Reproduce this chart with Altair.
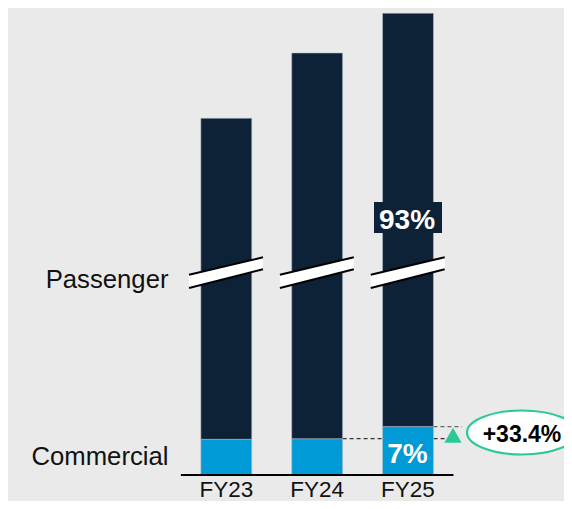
import altair as alt
import pandas as pd

# ---------------- data (display heights, axis is broken) ----------------
years = ["FY23", "FY24", "FY25"]
commercial = [35.7, 36.3, 48.4]
passenger = [321.0, 385.7, 413.3]
series_names = ["Passenger", "Commercial"]
fy25_shares = ["93%", "7%"]
growth_label = "+33.4%"

# ---------------- style ----------------
NAVY = "#0d2137"
BLUE = "#009ad6"
GREEN = "#2bc99a"
BG = "#eaeaea"
FONT = "Liberation Sans"

# ---------------- layout (page pixels) ----------------
PAGE_W, PAGE_H, MARGIN = 572, 509, 8
W, H = PAGE_W - 2 * MARGIN, PAGE_H - 2 * MARGIN
C0, STEP, BASE = 226.3, 90.85, 475.0
HALF_BAR = 0.28


def xi(px):
    return (px - C0) / STEP


def yv(py):
    return BASE - py


xs = alt.Scale(domain=[xi(MARGIN), xi(MARGIN + W)], nice=False, zero=False)
ys = alt.Scale(domain=[yv(MARGIN + H), yv(MARGIN)], nice=False, zero=False)


def X(f):
    return alt.X(f, type="quantitative", scale=xs, axis=None)


def Y(f):
    return alt.Y(f, type="quantitative", scale=ys, axis=None)


# bars
rows = []
for i, yr in enumerate(years):
    rows.append(dict(i=i, x=i - HALF_BAR, x2=i + HALF_BAR, y=0, y2=commercial[i], s="Commercial"))
    rows.append(dict(i=i, x=i - HALF_BAR, x2=i + HALF_BAR, y=commercial[i],
                     y2=commercial[i] + passenger[i], s="Passenger"))
bars_df = pd.DataFrame(rows)

color = alt.Color("s:N", scale=alt.Scale(domain=series_names, range=[NAVY, BLUE]), legend=None)
bars = alt.Chart(bars_df).mark_rect(stroke="#b0bcc8", strokeOpacity=0.55, strokeWidth=1).encode(
    x=X("x"), x2="x2", y=Y("y"), y2="y2", color=color
)

# dashed reference lines
dash_df = pd.DataFrame([
    dict(x=1 + HALF_BAR, x2=xi(449), y=commercial[1], c="#333333"),
    dict(x=2 + HALF_BAR, x2=xi(462), y=commercial[2], c="#666666"),
])
dashes = alt.Chart(dash_df).mark_rule(strokeDash=[4, 3], strokeWidth=1.3).encode(
    x=X("x"), x2="x2", y=Y("y"), color=alt.Color("c:N", scale=None)
)

# axis-break marks
BL, BR = -0.41, 0.404
TOP = (yv(274.7), yv(257.3))
BOT = (yv(288.0), yv(269.3))
band_rows, line_rows = [], []
for i in range(len(years)):
    band_rows.append(dict(g=i, x=i + BL, y=TOP[0], y2=BOT[0]))
    band_rows.append(dict(g=i, x=i + BR, y=TOP[1], y2=BOT[1]))
    line_rows.append(dict(x=i + BL, x2=i + BR, y=TOP[0], y2=TOP[1]))
    line_rows.append(dict(x=i + BL, x2=i + BR, y=BOT[0], y2=BOT[1]))
band = alt.Chart(pd.DataFrame(band_rows)).mark_area(color="white", orient="vertical", opacity=1).encode(
    x=X("x"), y=Y("y"), y2="y2", detail="g:N"
)
blines = alt.Chart(pd.DataFrame(line_rows)).mark_rule(color="black", strokeWidth=2).encode(
    x=X("x"), x2="x2", y=Y("y"), y2="y2"
)

# 93% box + labels
box = alt.Chart(pd.DataFrame([dict(x=xi(374), x2=xi(442), y=yv(202), y2=yv(233))])).mark_rect(
    color=NAVY).encode(x=X("x"), x2="x2", y=Y("y"), y2="y2")
share_df = pd.DataFrame([
    dict(x=xi(407), y=yv(229.3), t=fy25_shares[0]),
    dict(x=xi(407.5), y=yv(462.7), t=fy25_shares[1]),
])
shares = alt.Chart(share_df).mark_text(font=FONT, fontSize=28, fontWeight="bold", color="white",
                                       align="center", baseline="alphabetic").encode(
    x=X("x"), y=Y("y"), text="t:N")

# series labels
ser_df = pd.DataFrame([
    dict(x=xi(168.5), y=yv(287.7), t=series_names[0]),
    dict(x=xi(168.5), y=yv(464.8), t=series_names[1]),
])
ser = alt.Chart(ser_df).mark_text(font=FONT, fontSize=25.7, color="#111111", align="right",
                                  baseline="alphabetic").encode(x=X("x"), y=Y("y"), text="t:N")

# category labels
cat_df = pd.DataFrame(dict(x=list(range(len(years))), y=[yv(497.0)] * len(years), t=years))
cats = alt.Chart(cat_df).mark_text(font=FONT, fontSize=22.5, color="#111111", align="center",
                                   baseline="alphabetic").encode(x=X("x"), y=Y("y"), text="t:N")

# baseline
base = alt.Chart(pd.DataFrame([dict(x=-0.5, x2=2.5, y=0)])).mark_rule(color="black", strokeWidth=2).encode(
    x=X("x"), x2="x2", y=Y("y"))

# growth marker
tri = alt.Chart(pd.DataFrame([dict(x=xi(453), y=yv(435.3))])).mark_point(
    shape="triangle-up", size=300, filled=True, color=GREEN, opacity=1).encode(x=X("x"), y=Y("y"))

k, e = 0.5523, 0.40
ek = e * k
ELLIPSE = (f"M -1 0 C -1 {-ek} {-k} {-e} 0 {-e} C {k} {-e} 1 {-ek} 1 0 "
           f"C 1 {ek} {k} {e} 0 {e} C {-k} {e} -1 {ek} -1 0 Z")
ell = alt.Chart(pd.DataFrame([dict(x=xi(522), y=yv(432.5))])).mark_point(
    shape=ELLIPSE, size=(2 * 55) ** 2, filled=True, fill="white", fillOpacity=1,
    stroke=GREEN, strokeWidth=2.2, strokeOpacity=1, opacity=1).encode(x=X("x"), y=Y("y"))
gtxt = alt.Chart(pd.DataFrame([dict(x=xi(522), y=yv(441.5), t=growth_label)])).mark_text(
    font=FONT, fontSize=23, fontWeight="bold", color="black", align="center",
    baseline="alphabetic").encode(x=X("x"), y=Y("y"), text="t:N")

chart = alt.layer(
    dashes, bars, band, blines, box, shares, ser, cats, base, tri, ell, gtxt
).properties(
    width=W, height=H, autosize=alt.AutoSizeParams(type="none"), padding=0, background=BG
).configure_view(stroke=None)

chart.save("out.html", embed_options={"renderer": "svg", "actions": False})
